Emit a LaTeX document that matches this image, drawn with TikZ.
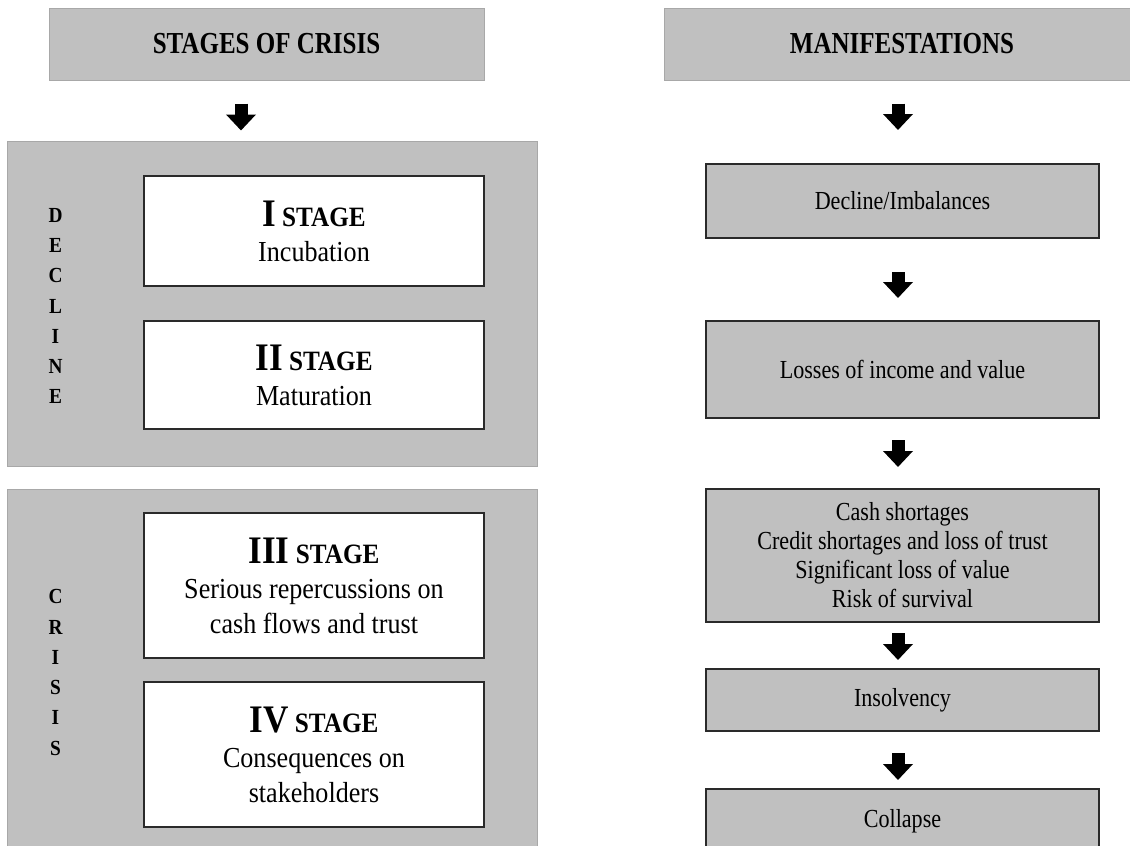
\documentclass[tikz,border=0pt]{standalone}
\usepackage{fontspec}
\setmainfont{Liberation Serif}[FakeStretch=0.9]
\newfontfamily\manifont{Liberation Serif}[FakeStretch=0.85]
\newfontfamily\headfont{Liberation Serif}[FakeStretch=0.82]
\usetikzlibrary{arrows.meta}

\definecolor{panelgray}{HTML}{C0C0C0}
\definecolor{paneledge}{HTML}{A8A8A8}
\definecolor{boxedge}{HTML}{2A2A2A}

% heading of a stage: big roman numeral followed by STAGE
\newcommand\stagetitle[1]{{\bfseries\fontsize{28}{35}\selectfont{\fontsize{39}{35}\selectfont #1} STAGE}}

\tikzset{
  header/.style={fill=panelgray, draw=paneledge, line width=1pt, inner sep=0pt,
    font=\headfont\fontsize{30.5}{34}\selectfont\bfseries},
  panel/.style={fill=panelgray, draw=paneledge, line width=1pt, inner sep=0pt},
  stagebox/.style={fill=white, draw=boxedge, line width=2pt, inner sep=0pt,
    minimum width=340pt, align=center, font=\fontsize{29}{35}\selectfont},
  manbox/.style={fill=panelgray, draw=boxedge, line width=2pt, inner sep=0pt,
    minimum width=393pt, align=center, font=\manifont\fontsize{26}{29}\selectfont},
  sidelabel/.style={align=center, inner sep=0pt, font=\fontsize{21.5}{30.3}\selectfont\bfseries},
  blockarrow/.style={draw=black, line width=13pt, -{Triangle[width=29pt,length=16pt]}}
}

\begin{document}
\begin{tikzpicture}[x=1pt, y=-1pt]
\useasboundingbox (0,0) rectangle (1130,846);
\clip (0,0) rectangle (1130,846);
\fill[white] (0,0) rectangle (1130,846);

% column headings
\node[header, minimum width=435pt, minimum height=72pt] (h1) at (266.5,44) {STAGES OF CRISIS};
\node[header, minimum width=476pt, minimum height=72pt] (h2) at (902,44) {MANIFESTATIONS};

% left column: the two phases with their stages
\node[panel, minimum width=530pt, minimum height=325pt] (decline) at (272,303.5) {};
\node[panel, minimum width=530pt, minimum height=367pt] (crisis) at (272,672.5) {};

\node[sidelabel] (dlab) at (55.5,306) {D\\E\\C\\L\\I\\N\\E};
\node[sidelabel] (clab) at (55.5,672.5) {C\\R\\I\\S\\I\\S};

\node[stagebox, minimum height=110pt] (s1) at (314,231) {\stagetitle{I}\\Incubation};
\node[stagebox, minimum height=108pt] (s2) at (314,375) {\stagetitle{II}\\Maturation};
\node[stagebox, minimum height=145pt] (s3) at (314,585.5) {\stagetitle{III}\\Serious repercussions on\\cash flows and trust};
\node[stagebox, minimum height=145pt] (s4) at (314,754.5) {\stagetitle{IV}\\Consequences on\\stakeholders};

% right column: manifestations
\node[manbox, minimum height=74pt] (m1) at (902.5,201) {Decline/Imbalances};
\node[manbox, minimum height=97pt] (m2) at (902.5,369.5) {Losses of income and value};
\node[manbox, minimum height=133pt] (m3) at (902.5,555.5) {Cash shortages\\Credit shortages and loss of trust\\Significant loss of value\\Risk of survival};
\node[manbox, minimum height=62pt] (m4) at (902.5,700) {Insolvency};
\node[manbox, minimum height=64pt] (m5) at (902.5,821) {Collapse};

% block arrows
\draw[blockarrow] ([xshift=-25.5pt,yshift=-23pt]h1.south) -- ([xshift=-31pt,yshift=10pt]decline.north);
\draw[blockarrow] ([xshift=-4pt,yshift=-23pt]h2.south) -- ([xshift=-4.5pt,yshift=33pt]m1.north);
\draw[blockarrow] ([xshift=-4.5pt,yshift=-33pt]m1.south) -- ([xshift=-4.5pt,yshift=22pt]m2.north);
\draw[blockarrow] ([xshift=-4.5pt,yshift=-21pt]m2.south) -- ([xshift=-4.5pt,yshift=21pt]m3.north);
\draw[blockarrow] ([xshift=-4.5pt,yshift=-10pt]m3.south) -- ([xshift=-4.5pt,yshift=8pt]m4.north);
\draw[blockarrow] ([xshift=-4.5pt,yshift=-21pt]m4.south) -- ([xshift=-4.5pt,yshift=8pt]m5.north);
\end{tikzpicture}
\end{document}
